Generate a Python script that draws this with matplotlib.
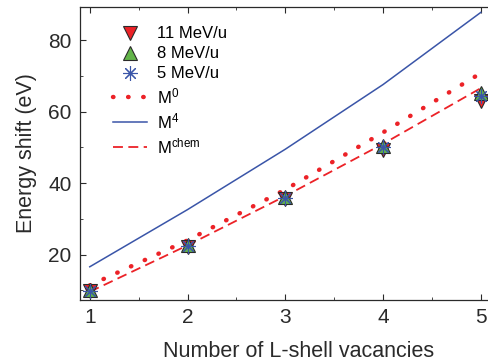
import numpy as np
import matplotlib
matplotlib.use("Agg")
import matplotlib.pyplot as plt
from matplotlib.ticker import MultipleLocator

plt.rcParams['font.family'] = ['Liberation Sans', 'DejaVu Sans']
plt.rcParams['mathtext.fontset'] = 'custom'
plt.rcParams['mathtext.rm'] = 'Liberation Sans'
plt.rcParams['mathtext.it'] = 'Liberation Sans'

# data
vac = [1, 2, 3, 4, 5]
e_11 = [9.8, 22.2, 35.6, 49.3, 63.0]
e_8 = [10.0, 22.6, 36.0, 50.3, 65.2]
e_5 = [9.9, 22.4, 35.8, 50.0, 64.5]
m0 = [11.4, 24.0, 38.2, 54.2, 70.8]
m4 = [16.6, 32.6, 49.5, 67.6, 87.8]
mchem = [9.6, 22.6, 36.4, 51.0, 66.6]

red = '#ec2227'
green = '#62b449'
blue = '#3a55a8'
dark = '#2a2a2a'

# the original axes run past the right edge of the picture
fig = plt.figure(figsize=(4.89, 3.64), dpi=100)
ax = fig.add_axes([80 / 489, 64 / 364, 438 / 489, 293 / 364])

ax.plot(vac, e_11, linestyle='none', marker='v', ms=10.5, mfc=red, mec=dark, mew=0.8,
        label='11 MeV/u', zorder=3)
ax.plot(vac, e_8, linestyle='none', marker='^', ms=10.5, mfc=green, mec=dark, mew=0.8,
        label='8 MeV/u', zorder=4)
ax.plot(vac, e_5, linestyle='none', marker=(8, 2, 0), ms=10.5, mec=blue, mew=0.8,
        label='5 MeV/u', zorder=5)
ax.plot(vac, m0, linestyle=(0, (0.1, 3.3)), color=red, lw=3.2, dash_capstyle='round',
        label='M$^{0}$')
ax.plot(vac, m4, '-', color=blue, lw=1.1, label='M$^{4}$')
ax.plot(vac, mchem, linestyle=(0, (5.5, 3)), color=red, lw=1.3, label='M$^{\\mathrm{chem}}$')

ax.set_xlim(0.9, 5.38)
ax.set_ylim(7.3, 89.3)
ax.xaxis.set_major_locator(MultipleLocator(1))
ax.xaxis.set_minor_locator(MultipleLocator(0.5))
ax.yaxis.set_major_locator(MultipleLocator(20))
ax.yaxis.set_minor_locator(MultipleLocator(10))
ax.tick_params(which='both', direction='in', top=True, right=True, labelsize=15,
               colors=dark, pad=6)
ax.tick_params(which='major', length=4.5)
ax.tick_params(which='minor', length=2.5)
for s in ax.spines.values():
    s.set_color(dark)
    s.set_linewidth(0.9)

ax.set_xlabel('Number of L-shell vacancies', fontsize=15.5, color=dark, labelpad=10)
ax.set_ylabel('Energy shift (eV)', fontsize=15.5, color=dark, labelpad=8)

ax.legend(loc='upper left', bbox_to_anchor=(0.042, 0.985), frameon=False, fontsize=12,
          handlelength=2.0, labelspacing=0.3, handletextpad=0.6)

fig.savefig('out.png', dpi=100)
